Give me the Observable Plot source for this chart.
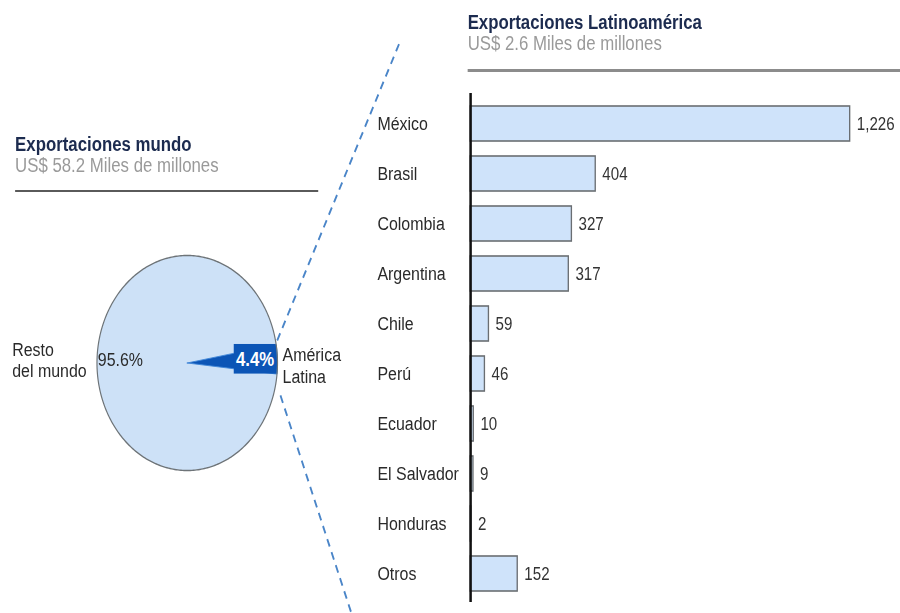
<!DOCTYPE html>
<html><head><meta charset="utf-8">
<script src="https://cdn.jsdelivr.net/npm/d3@7"></script>
<script src="https://cdn.jsdelivr.net/npm/@observablehq/plot@0.6"></script>
<style>
html,body{margin:0;padding:0;background:#fff;overflow:hidden;}
#wrap{position:relative;width:1072px;height:613px;transform:scaleX(0.8396);transform-origin:0 0;font-family:"Liberation Sans",Arial,sans-serif;}
.layer{position:absolute;left:0;top:0;width:1072px;height:613px;}
.layer svg{max-width:none;display:block;}
.title{position:absolute;font-weight:bold;font-size:20px;line-height:20px;color:#1c2b4f;white-space:nowrap;}
.sub{position:absolute;font-size:20px;line-height:20px;color:#9a9a9a;white-space:nowrap;}
.rule{position:absolute;}
</style></head>
<body>
<div id="wrap">
  <div id="pie" class="layer"></div>
  <div id="bars" class="layer"></div>
  <div id="t0" class="title" style="left:18px;top:134px"></div>
  <div id="s0" class="sub" style="left:18px;top:155px"></div>
  <div class="rule" style="left:18px;top:190px;width:361px;height:2px;background:#5a5a5a"></div>
  <div id="t1" class="title" style="left:557px;top:12px"></div>
  <div id="s1" class="sub" style="left:557px;top:33px"></div>
  <div class="rule" style="left:557px;top:69px;width:515px;height:3px;background:#8c8c8c"></div>
</div>
<script>
// ---- data ----
const panelTitles = ["Exportaciones mundo", "Exportaciones Latinoamérica"];
const panelSubtitles = ["US$ 58.2 Miles de millones", "US$ 2.6 Miles de millones"];
const shareNames = ["Resto\ndel mundo", "América\nLatina"];
const shareValues = [95.6, 4.4];
const countries = ["México", "Brasil", "Colombia", "Argentina", "Chile", "Perú", "Ecuador", "El Salvador", "Honduras", "Otros"];
const exportValues = [1226, 404, 327, 317, 59, 46, 10, 9, 2, 152];

document.getElementById("t0").textContent = panelTitles[0];
document.getElementById("s0").textContent = panelSubtitles[0];
document.getElementById("t1").textContent = panelTitles[1];
document.getElementById("s1").textContent = panelSubtitles[1];

const W = 1072, H = 613;
const FONT = "Liberation Sans, Arial, sans-serif";
const TEXT = "#2a2a2a";

// ---- pie geometry (from shares) ----
const total = d3.sum(shareValues);
const latSpan = 2 * Math.PI * shareValues[1] / total;
const mid = 2 * Math.PI / 180; // slight upward tilt of the slice
const a0 = mid - latSpan / 2, a1 = mid + latSpan / 2;
function arcPts(from, to, name, withCenter) {
  const n = Math.max(2, Math.ceil(Math.abs(to - from) / (Math.PI / 180)));
  const pts = withCenter ? [{slice: name, x: 0, y: 0}] : [];
  for (let i = 0; i <= n; i++) {
    const a = from + (to - from) * i / n;
    pts.push({slice: name, x: Math.cos(a), y: Math.sin(a)});
  }
  if (withCenter) pts.push({slice: name, x: 0, y: 0});
  return pts;
}
const restPts = arcPts(a1, a0 + 2 * Math.PI, shareNames[0], true);
const latPts = arcPts(a0, a1, shareNames[1], true);
const outline = arcPts(0, 2 * Math.PI, "outline", false);
const labelBox = [{x1: 0.52, x2: Math.cos(a1), y1: Math.sin(a0), y2: Math.sin(a1)}];
const connectors = [
  {x1: 0.997, y1: 0.209, x2: 2.363, y2: 3.0},
  {x1: 1.033, y1: -0.302, x2: 1.82, y2: -2.33}
];
const fmtPct = d3.format(".1f");

const pie = Plot.plot({
  width: W, height: H,
  marginLeft: 115, marginRight: 742, marginTop: 255, marginBottom: 143,
  x: {domain: [-1, 1], axis: null},
  y: {domain: [-1, 1], axis: null},
  style: {background: "transparent", fontFamily: FONT},
  marks: [
    Plot.line(restPts, {x: "x", y: "y", fill: "#cde1f7", stroke: "none", curve: "linear"}),
    Plot.line(latPts, {x: "x", y: "y", fill: "#0c55b6", stroke: "#3f86d8", strokeWidth: 1, curve: "linear"}),
    Plot.rect(labelBox, {x1: "x1", x2: "x2", y1: "y1", y2: "y2", fill: "#0c55b6"}),
    Plot.line(outline, {x: "x", y: "y", stroke: "#6e7478", strokeWidth: 1.4, curve: "linear"}),
    Plot.link(connectors, {x1: "x1", y1: "y1", x2: "x2", y2: "y2", stroke: "#4a85c8", strokeWidth: 2.2, strokeDasharray: "8,6"}),
    Plot.text([shareValues[1]], {x: (labelBox[0].x1 + labelBox[0].x2) / 2, y: Math.sin(mid), text: d => fmtPct(d) + "%", fill: "white", fontWeight: "bold", fontSize: 20}),
    Plot.text([shareValues[0]], {x: -1, y: 0, text: d => fmtPct(d) + "%", textAnchor: "start", dx: 1, dy: -3, fontSize: 19, fill: TEXT}),
    Plot.text([shareNames[0]], {x: -1, y: 0, text: d => d, textAnchor: "start", dx: -101, dy: -3, fontSize: 19, lineHeight: 1.1, fill: TEXT}),
    Plot.text([shareNames[1]], {x: 1, y: 0, text: d => d, textAnchor: "start", dx: 6, dy: 2, fontSize: 19, lineHeight: 1.15, fill: TEXT})
  ]
});
document.getElementById("pie").append(pie);

// ---- bars ----
const rows = countries.map((c, i) => ({country: c, value: exportValues[i]}));
const fmtVal = d3.format(",");
const bars = Plot.plot({
  width: W, height: H,
  marginLeft: 560, marginRight: 60, marginTop: 86, marginBottom: 3,
  x: {domain: [0, d3.max(exportValues)], axis: null},
  y: {domain: countries, padding: 0.31, axis: null},
  style: {background: "transparent", fontFamily: FONT},
  marks: [
    Plot.barX(rows, {x: "value", y: "country", fill: "#cfe3fa", stroke: "#6a6e72", strokeWidth: 1.6}),
    Plot.ruleX([0], {stroke: "#111", strokeWidth: 3, insetTop: 7, insetBottom: 8}),
    Plot.text(rows, {y: "country", text: "country", frameAnchor: "left", textAnchor: "start", dx: -111, fontSize: 19, fill: TEXT}),
    Plot.text(rows, {x: "value", y: "country", text: d => fmtVal(d.value), textAnchor: "start", dx: 8, fontSize: 18, fill: "#333"})
  ]
});
document.getElementById("bars").append(bars);
</script>
</body></html>
